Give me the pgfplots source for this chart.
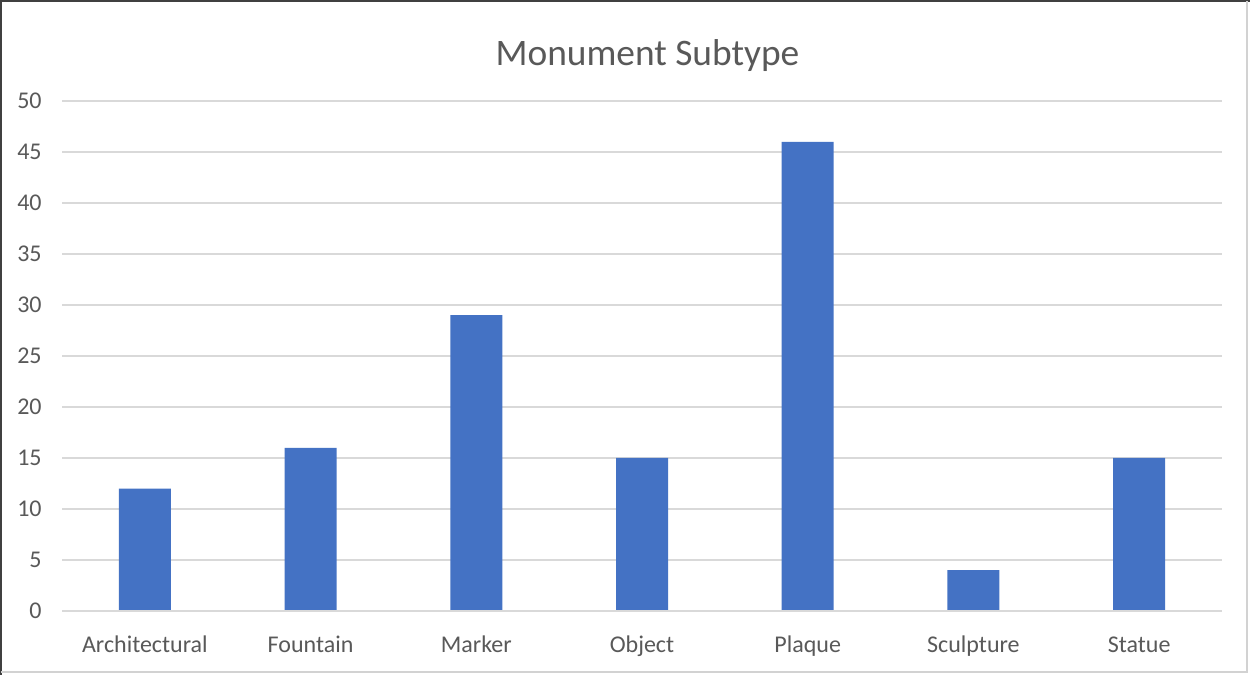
\documentclass[border=0pt]{standalone}
\usepackage{pgfplots}
\pgfplotsset{compat=1.18}
\usepackage{fontspec}
\setmainfont{Carlito}
\definecolor{barblue}{HTML}{4472C4}
\definecolor{gridgray}{HTML}{D9D9D9}
\definecolor{txtgray}{HTML}{595959}
\begin{document}
\begin{tikzpicture}
\path[use as bounding box] (0,0) rectangle (625pt,337.5pt);
\fill[white] (0,0) rectangle (625pt,337.5pt);
\draw[black!75, line width=0.8pt] (0.4pt,0) -- (0.4pt,337.1pt) -- (625pt,337.1pt);
\draw[gray!35, line width=0.6pt] (0.4pt,1.5pt) -- (623.5pt,1.5pt) -- (623.5pt,337.1pt);
\begin{axis}[
  at={(31pt,32pt)}, anchor=south west,
  scale only axis, width=580pt, height=255pt,
  xmin=-0.5, xmax=6.5, ymin=0, ymax=50,
  ybar, bar width=26pt,
  xtick=data,
  xticklabels={Architectural,Fountain,Marker,Object,Plaque,Sculpture,Statue},
  ytick={0,5,...,50},
  ymajorgrids, grid style={gridgray, line width=0.8pt},
  axis line style={draw=none},
  major tick length=0pt,
  /pgf/number format/assume math mode=true,
  tick label style={font=\fontsize{12}{14}\selectfont, text=txtgray},
  yticklabel style={inner sep=0pt, anchor=east, xshift=-10pt},
  xticklabel style={inner sep=0pt, anchor=base, yshift=-21pt},
  clip=false,
]
\addplot[fill=barblue, draw=none] coordinates {(0,12) (1,16) (2,29) (3,15) (4,46) (5,4) (6,15)};
\draw[gridgray, line width=0.8pt] (axis cs:-0.5,0) -- (axis cs:6.5,0);
\end{axis}
\node[anchor=base, inner sep=0pt, text=txtgray, font=\fontsize{18.7}{22}\selectfont] at (323.75pt,304.5pt) {Monument Subtype};
\end{tikzpicture}
\end{document}
